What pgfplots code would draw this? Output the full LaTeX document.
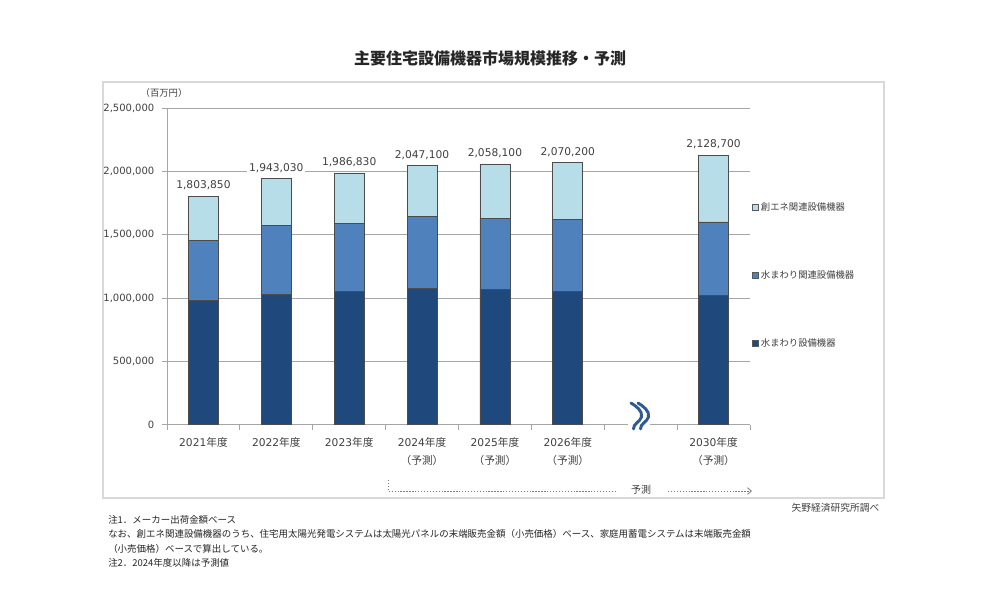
\documentclass[border=0pt]{standalone}
\usepackage{fontspec}
\setmainfont{DejaVu Sans}
\newfontfamily\cjk{Noto Sans CJK JP}
\usepackage{pgfplots}
\pgfplotsset{compat=1.18}
\usepackage{pgfplotstable}
\usetikzlibrary{arrows.meta}

\definecolor{cDark}{HTML}{1F497D}
\definecolor{cMid}{HTML}{4F81BD}
\definecolor{cLight}{HTML}{B7DDE8}
\definecolor{gridc}{HTML}{A6A6A6}
\definecolor{txt}{HTML}{404040}
\definecolor{framec}{HTML}{D9D9D9}
\definecolor{brk}{HTML}{2F5B93}

% market size by segment (million yen); total = sum of the three segments
\pgfplotstableread{
x dark    mid    light  total
0 983000  474000 346850 1803850
1 1031000 544000 368030 1943030
2 1054000 535000 397830 1986830
3 1073000 568000 406100 2047100
4 1065000 566000 427100 2058100
5 1054000 569000 447200 2070200
7 1017000 584000 527700 2128700
}\market

% shared geometry of the stacked-bar axis and the totals overlay
\pgfplotsset{
  marketframe/.style={
    at={(125.25pt,-318.45pt)}, anchor=south west,
    scale only axis, width=437.25pt, height=237.45pt,
    xmin=-0.5, xmax=7.5, ymin=0, ymax=2500000,
  },
}

\begin{document}
\begin{tikzpicture}
% page frame and free text, laid out on a 1000 x 600 grid
\begin{scope}[x=0.75pt,y=-0.75pt]
\path[use as bounding box] (0,0) rectangle (1000,600);
\fill[white] (0,0) rectangle (1000,600);
\draw[framec, line width=0.8pt] (103,82) rectangle (884,498);
\node[font=\cjk\bfseries\fontsize{12}{14}\selectfont, text=black!85] at (490,58) {主要住宅設備機器市場規模推移・予測};
\node[font=\cjk\fontsize{7}{8}\selectfont, text=txt] at (164,93) {（百万円）};
\end{scope}

\begin{axis}[
  marketframe,
  ybar stacked, bar width=22.5pt,
  axis lines*=left,
  axis line style={gridc, line width=0.7pt},
  ymajorgrids, grid style={gridc, line width=0.6pt},
  ytick={0,500000,1000000,1500000,2000000,2500000},
  scaled y ticks=false,
  /pgf/number format/.cd, fixed, precision=0, 1000 sep={,}, assume math mode=true,
  /pgfplots/.cd,
  tick align=outside,
  major tick length=4pt, minor tick length=4pt,
  ytick style={gridc, line width=0.6pt},
  major x tick style={draw=none},
  minor x tick style={gridc, line width=0.6pt},
  minor xtick={-0.5,0.5,1.5,2.5,3.5,4.5,5.5,6.5,7.5},
  yticklabel style={font=\fontsize{7.5}{9}\selectfont, text=txt, xshift=-2pt},
  xtick={0,1,2,3,4,5,7},
  xticklabels={
    2021{\cjk 年度},
    2022{\cjk 年度},
    2023{\cjk 年度},
    {2024{\cjk 年度}\\{\cjk （予測）}},
    {2025{\cjk 年度}\\{\cjk （予測）}},
    {2026{\cjk 年度}\\{\cjk （予測）}},
    {2030{\cjk 年度}\\{\cjk （予測）}}},
  xticklabel style={font=\fontsize{8}{13.5}\selectfont, text=txt, align=center, yshift=-2pt},
  legend style={at={(1.0,0.715)}, anchor=north west, draw=none, fill=none,
    font=\cjk\fontsize{7}{8}\selectfont, text=txt, row sep=39.5pt, inner sep=1pt},
  legend cell align=left,
  reverse legend,
  legend image code/.code={\draw[#1, draw=black!65, line width=0.4pt] (0pt,-2.3pt) rectangle (4.6pt,2.3pt);},
]
\addplot[fill=cDark, draw=black!70, line width=0.5pt] table[x=x, y=dark]{\market};
\addplot[fill=cMid, draw=black!70, line width=0.5pt] table[x=x, y=mid]{\market};
\addplot[fill=cLight, draw=black!70, line width=0.5pt] table[x=x, y=light]{\market};
\legend{水まわり設備機器, 水まわり関連設備機器, 創エネ関連設備機器}
\end{axis}

% totals written above each stack
\begin{axis}[
  marketframe, hide axis,
  ybar, bar width=22.5pt,
  nodes near coords={\pgfmathprintnumber[fixed,precision=0,1000 sep={,},assume math mode=true]{\pgfplotspointmeta}},
  nodes near coords align={vertical},
  every node near coord/.append style={yshift=2.8pt, fill=white, inner sep=1.5pt,
    font=\fontsize{8}{9}\selectfont, text=txt},
]
\addplot[draw=none, fill=none] table[x=x, y=total]{\market};
\end{axis}

\begin{scope}[x=0.75pt,y=-0.75pt]
% axis break between 2026 and 2030
\fill[white] (628,420) rectangle (650,428);
\foreach \dx in {0,7}{
  \draw[brk, line width=2.2pt, line cap=round]
    (631+\dx,403) .. controls (636+\dx,406) and (643+\dx,411) .. (641.5+\dx,417)
    .. controls (640+\dx,422) and (633+\dx,424) .. (633.5+\dx,429);
}
% forecast span marker
\draw[gray, line width=0.6pt, dash pattern=on 1pt off 1.2pt] (388,480) -- (388,491) -- (615,491);
\draw[gray, line width=0.6pt, dash pattern=on 1pt off 1.2pt, -{Straight Barb[length=3pt,width=5pt]}] (668,491) -- (752,491);
\node[font=\cjk\fontsize{7.5}{9}\selectfont, text=txt] at (641,490) {予測};
% source and notes
\node[font=\cjk\fontsize{7.3}{9}\selectfont, text=txt, anchor=east] at (884,508) {矢野経済研究所調べ};
\node[font=\cjk\fontsize{7.1}{10.9}\selectfont, text=black!85, anchor=north west, align=left, inner sep=0pt] at (108,515) {%
注1．メーカー出荷金額ベース\\
なお、創エネ関連設備機器のうち、住宅用太陽光発電システムは太陽光パネルの末端販売金額（小売価格）ベース、家庭用蓄電システムは末端販売金額\\
（小売価格）ベースで算出している。\\
注2．2024年度以降は予測値};
\end{scope}
\end{tikzpicture}
\end{document}
